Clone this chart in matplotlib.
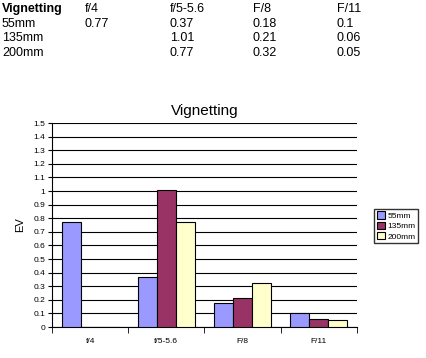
import matplotlib.pyplot as plt
import numpy as np

plt.rcParams['font.family'] = ['Liberation Sans', 'DejaVu Sans']

apertures = ['f/4', 'f/5-5.6', 'F/8', 'F/11']
table_head = ['f/4', 'f/5-5.6', 'F/8', 'F/11']
lenses = ['55mm', '135mm', '200mm']
ev_55 = [0.77, 0.37, 0.18, 0.1]
ev_135 = [None, 1.01, 0.21, 0.06]
ev_200 = [None, 0.77, 0.32, 0.05]
colors = ['#9999ff', '#993366', '#ffffcc']

fig = plt.figure(figsize=(4.27, 3.58), dpi=100)

# data table on top
#
col_x = [2, 85, 170, 253, 337]
row_y = [9, 24, 38, 53]
fig.text(col_x[0] / 427, 1 - row_y[0] / 358, 'Vignetting', fontsize=9, fontweight='bold', va='center')
for j, h in enumerate(table_head):
    fig.text(col_x[j + 1] / 427, 1 - row_y[0] / 358, h, fontsize=9, va='center')
for i, (name, vals) in enumerate(zip(lenses, [ev_55, ev_135, ev_200])):
    y = 1 - row_y[i + 1] / 358
    fig.text(col_x[0] / 427, y, name, fontsize=9, va='center')
    for j, v in enumerate(vals):
        if v is not None:
            fig.text(col_x[j + 1] / 427, y, '%g' % v, fontsize=9, va='center')

# chart
#
ax = fig.add_axes([52 / 427, 1 - 327 / 358, (357 - 52) / 427, (327 - 123) / 358])
x = np.arange(len(apertures))
w = 0.25
for k, (name, vals) in enumerate(zip(lenses, [ev_55, ev_135, ev_200])):
    h = [0 if v is None else v for v in vals]
    ax.bar(x + (k - 1) * w, h, width=w, color=colors[k], edgecolor='black', linewidth=0.8, label=name, zorder=3)

ax.set_xlim(-0.5, len(apertures) - 0.5)
ax.set_ylim(0, 1.5)
ax.set_yticks(np.arange(0, 1.51, 0.1))
ax.set_yticklabels(['%g' % round(t, 1) for t in np.arange(0, 1.51, 0.1)], fontsize=6)
ax.yaxis.grid(True, color='black', linewidth=0.8, zorder=0)
ax.set_xticks(x)
ax.set_xticklabels(apertures, fontsize=6)
ax.tick_params(axis='x', length=0, pad=8)
ax.set_xticks(np.arange(-0.5, len(apertures), 1), minor=True)
ax.tick_params(axis='x', which='minor', length=4, direction='out')
ax.tick_params(axis='y', length=3, direction='out', pad=2)
for s in ['top', 'right']:
    ax.spines[s].set_visible(False)
ax.set_ylabel('EV', fontsize=8, labelpad=6)
ax.set_title('Vignetting', fontsize=11, pad=6)

fig.legend(loc='center', bbox_to_anchor=(396 / 427, 1 - 226 / 358), fontsize=6,
           frameon=True, fancybox=False, edgecolor='black', handlelength=1.0, handleheight=1.0,
           handletextpad=0.3, borderpad=0.3, labelspacing=0.2, borderaxespad=0)

fig.savefig('out.png', dpi=100)
